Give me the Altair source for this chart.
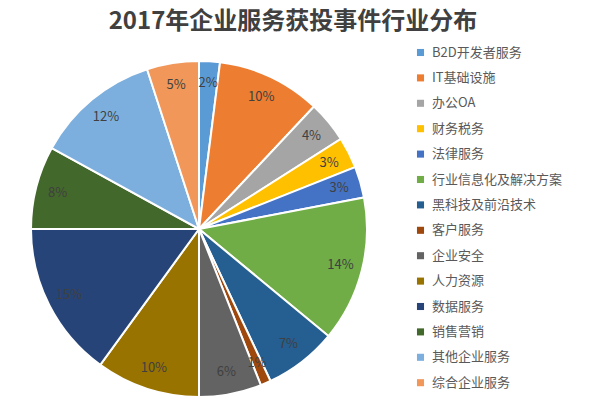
import altair as alt
import pandas as pd

categories = ["B2D开发者服务", "IT基础设施", "办公OA", "财务税务", "法律服务",
              "行业信息化及解决方案", "黑科技及前沿技术", "客户服务", "企业安全",
              "人力资源", "数据服务", "销售营销", "其他企业服务", "综合企业服务"]
values = [2, 10, 4, 3, 3, 14, 7, 1, 6, 10, 15, 8, 12, 5]
colors = ["#5B9BD5", "#ED7D31", "#A5A5A5", "#FFC000", "#4472C4", "#70AD47",
          "#255E91", "#9E480E", "#636363", "#997300", "#264478", "#43682B",
          "#7CAFDD", "#F1975A"]

df = pd.DataFrame({
    "category": categories,
    "value": values,
    "order": list(range(len(categories))),
    "label": [f"{v}%" for v in values],
})

FONT = "Noto Sans CJK SC"
cx, cy, R = 199, 189, 168

base = alt.Chart(df).encode(
    theta=alt.Theta("value:Q", stack=True),
    order=alt.Order("order:Q"),
)

pie = base.mark_arc(outerRadius=R, stroke="white", strokeWidth=2).encode(
    x=alt.value(cx), y=alt.value(cy),
    color=alt.Color(
        "category:N",
        scale=alt.Scale(domain=categories, range=colors),
        sort=categories,
        legend=alt.Legend(
            title=None, orient="none", legendX=414, legendY=6,
            symbolType="square", symbolSize=50, symbolStrokeWidth=0,
            labelFont=FONT, labelFontSize=13, labelColor="#595959",
            rowPadding=11.4, labelOffset=5, labelLimit=300,
        ),
    ),
)

text = base.mark_text(radius=146, font=FONT, fontSize=13, color="#404040").encode(
    x=alt.value(cx), y=alt.value(cy),
    text="label:N",
)

chart = alt.layer(pie, text).properties(
    width=600, height=360,
    padding={"left": 0, "top": 40, "right": 0, "bottom": 0},
    autosize=alt.AutoSizeParams(type="none"),
    title=alt.TitleParams(
        "2017年企业服务获投事件行业分布", font=FONT, fontSize=24,
        fontWeight="bold", color="#404040", anchor="middle", offset=6, dx=-7,
    ),
).configure_view(stroke=None)

chart.save("out.html", embed_options={"renderer": "svg", "actions": False})
